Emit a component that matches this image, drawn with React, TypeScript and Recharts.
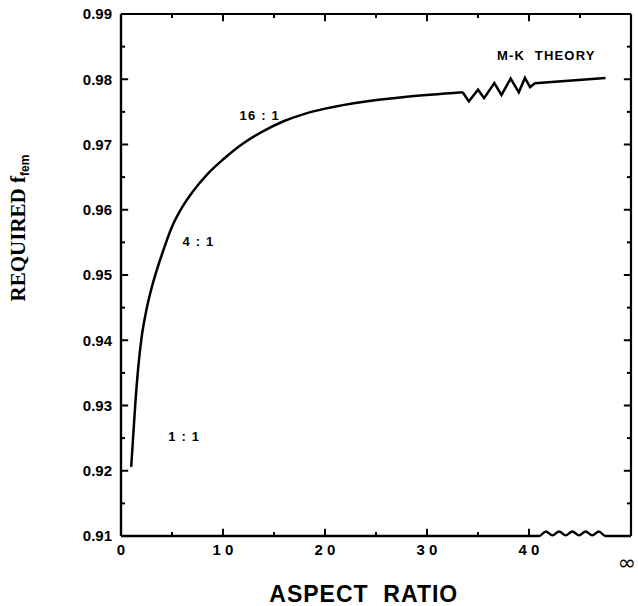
import { ComposedChart, LineChart, Line, Scatter, XAxis, YAxis, Label } from "recharts";

// main curve: required f_fem vs aspect ratio
const aspect = [1.0, 1.2, 1.4, 1.7, 2.0, 2.5, 3.0, 3.5, 4.0, 5.0, 6.0, 7.0, 8.5, 10, 12, 14, 16, 18, 20, 24, 28, 33.5];
const ffem = [0.9206, 0.9254, 0.9302, 0.936, 0.9402, 0.9447, 0.948, 0.9507, 0.9531, 0.9574, 0.9604, 0.9627, 0.9655, 0.9677, 0.9702, 0.9721, 0.9736, 0.9747, 0.9755, 0.9766, 0.9773, 0.978];

// broken part leading to the M-K limit
const mkAspect = [33.5, 34.1, 35.0, 35.6, 36.6, 37.3, 38.2, 39.0, 39.6, 40.1, 40.6, 47.5];
const mkFfem = [0.978, 0.9766, 0.9784, 0.9771, 0.9794, 0.9776, 0.9801, 0.978, 0.9802, 0.9788, 0.9794, 0.9802];

// bottom axis with the break before infinity
const baseAspect = [0, 41.0, 41.65, 42.3, 42.95, 43.6, 44.25, 44.9, 45.55, 46.2, 46.85, 47.5, 50];
const baseFfem = [0.91, 0.91, 0.9107, 0.9101, 0.9107, 0.9101, 0.9107, 0.9101, 0.9107, 0.9101, 0.9107, 0.91, 0.91];

const xLabels = [0, 10, 20, 30, 40, 50];
const xMajor = [10, 20, 30, 40];
const xMinorBottom = [5, 15, 25, 35];
const xMinorTop = [5, 15, 25, 35, 45];
const yMajor = [0.91, 0.92, 0.93, 0.94, 0.95, 0.96, 0.97, 0.98, 0.99];
const yMinor = [0.915, 0.925, 0.935, 0.945, 0.955, 0.965, 0.975, 0.985];

const noteText = ["M-K  THEORY", "16 : 1", "4 : 1", "1 : 1"];
const noteAspect = [41.7, 13.6, 7.6, 6.2];
const noteFfem = [0.9837, 0.9744, 0.9552, 0.9252];

const curve = aspect.map((x, i) => ({ x, y: ffem[i] }));
const mk = mkAspect.map((x, i) => ({ x, y: mkFfem[i] }));
const base = baseAspect.map((x, i) => ({ x, y: baseFfem[i] }));
const notes = noteText.map((text, i) => ({ text, x: noteAspect[i], y: noteFfem[i] }));

const frameTop = [{ x: 0, y: 0.99 }, { x: 50, y: 0.99 }];
const frameRight = [{ x: 50, y: 0.99 }, { x: 50, y: 0.91 }];
const frameLeft = [{ x: 0, y: 0.91 }, { x: 0, y: 0.99 }];

// each tick mark is a two-point segment
const hTicks = (vals: number[], from: number, to: number) =>
    vals.map((v) => [{ x: from, y: v }, { x: to, y: v }]);
const vTicks = (vals: number[], from: number, to: number) =>
    vals.map((v) => [{ x: v, y: from }, { x: v, y: to }]);

const tickMarks = [
    ...hTicks(yMajor, 0, 0.7),
    ...hTicks(yMinor, 0, 0.4),
    ...hTicks(yMajor, 50, 49.3),
    ...hTicks(yMinor, 50, 49.6),
    ...vTicks(xMajor, 0.91, 0.9111),
    ...vTicks(xMinorBottom, 0.91, 0.9106),
    ...vTicks(xMajor, 0.99, 0.9889),
    ...vTicks(xMinorTop, 0.99, 0.9894),
];

const SANS = "'Liberation Sans', Arial, sans-serif";
const W = 638;
const H = 606;
const MARGIN = { top: 14, right: 7, bottom: 30, left: 0 };

function XTick(props: any) {
    const { x, y, payload } = props;
    const v = payload.value;
    if (v === 50) {
        return (
            <text x={x - 3} y={y + 10} dy="0.71em" textAnchor="middle" fontSize={22} fill="#000" fontFamily="'DejaVu Sans', sans-serif">
                ∞
            </text>
        );
    }
    return (
        <text x={x} y={y} dy="0.71em" textAnchor="middle" fontSize={15} fontWeight={700} fill="#000" fontFamily={SANS}>
            {String(v).split("").join(" ")}
        </text>
    );
}

function NoteShape(props: any) {
    const { cx, cy, payload } = props;
    return (
        <text x={cx} y={cy} dy="0.355em" textAnchor="middle" fontSize={13} fontWeight={700} letterSpacing={1.2} fill="#000" fontFamily={SANS} style={{ whiteSpace: "pre" }}>
            {payload.text}
        </text>
    );
}

// frame and inward ticks, drawn in a plain overlay chart with the same scales
function Frame() {
    return (
        <LineChart width={W} height={H} margin={MARGIN}>
            <XAxis dataKey="x" type="number" domain={[0, 50]} height={40} axisLine={false} tickLine={false} tick={{ fill: "transparent" }} />
            <YAxis type="number" domain={[0.91, 0.99]} width={121} axisLine={{ stroke: "#000", strokeWidth: 2.2 }} tickLine={false} tick={{ fill: "transparent" }} />
            <Line data={frameLeft} dataKey="y" stroke="#000" strokeWidth={2.2} dot={false} isAnimationActive={false} />
            <Line data={frameTop} dataKey="y" stroke="#000" strokeWidth={2.2} dot={false} isAnimationActive={false} />
            <Line data={frameRight} dataKey="y" stroke="#000" strokeWidth={2.2} dot={false} isAnimationActive={false} />
            {tickMarks.map((d, i) => (
                <Line key={"t" + i} data={d} dataKey="y" stroke="#000" strokeWidth={2} dot={false} isAnimationActive={false} />
            ))}
        </LineChart>
    );
}

export default function App() {
    return (
        <div style={{ position: "absolute", left: 0, top: 0, width: W, height: H, background: "#fff" }}>
            <ComposedChart width={W} height={H} margin={MARGIN}>
                <XAxis
                    dataKey="x"
                    type="number"
                    domain={[0, 50]}
                    ticks={xLabels}
                    axisLine={false}
                    tickLine={false}
                    tickSize={0}
                    tickMargin={8}
                    height={40}
                    tick={<XTick />}
                >
                    <Label
                        content={({ viewBox }: any) => (
                            <text
                                x={viewBox.x + viewBox.width * 0.476}
                                y={viewBox.y + 66}
                                textAnchor="middle"
                                fontSize={23}
                                fontWeight={700}
                                letterSpacing={1}
                                fontFamily={SANS}
                                fill="#000"
                                style={{ whiteSpace: "pre" }}
                            >
                                {"ASPECT  RATIO"}
                            </text>
                        )}
                    />
                </XAxis>
                <YAxis
                    type="number"
                    domain={[0.91, 0.99]}
                    ticks={yMajor}
                    width={121}
                    axisLine={false}
                    tickLine={false}
                    tickSize={0}
                    tickMargin={9}
                    tickFormatter={(v: number) => v.toFixed(2)}
                    tick={{ fill: "#000", fontSize: 15, fontWeight: 700, fontFamily: SANS }}
                >
                    <Label
                        content={({ viewBox }: any) => {
                            const cx = viewBox.x + 25;
                            const cy = viewBox.y + viewBox.height * 0.41;
                            return (
                                <text
                                    x={cx}
                                    y={cy}
                                    transform={`rotate(-90 ${cx} ${cy})`}
                                    textAnchor="middle"
                                    fontFamily="'Liberation Serif', 'Times New Roman', serif"
                                    fontWeight={700}
                                    fontSize={21}
                                    fill="#000"
                                >
                                    REQUIRED f
                                    <tspan fontSize={12} dy={4} fontFamily={SANS}>fem</tspan>
                                </text>
                            );
                        }}
                    />
                </YAxis>

                <Line data={base} dataKey="y" type="monotone" stroke="#000" strokeWidth={2.4} dot={false} isAnimationActive={false} />
                <Line data={curve} dataKey="y" type="monotone" stroke="#000" strokeWidth={2.5} dot={false} isAnimationActive={false} />
                <Line data={mk} dataKey="y" type="linear" stroke="#000" strokeWidth={2.5} dot={false} isAnimationActive={false} />
                <Scatter data={notes} dataKey="y" shape={<NoteShape />} isAnimationActive={false} />
            </ComposedChart>
            <div style={{ position: "absolute", left: 0, top: 0, pointerEvents: "none" }}>
                <Frame />
            </div>
        </div>
    );
}
